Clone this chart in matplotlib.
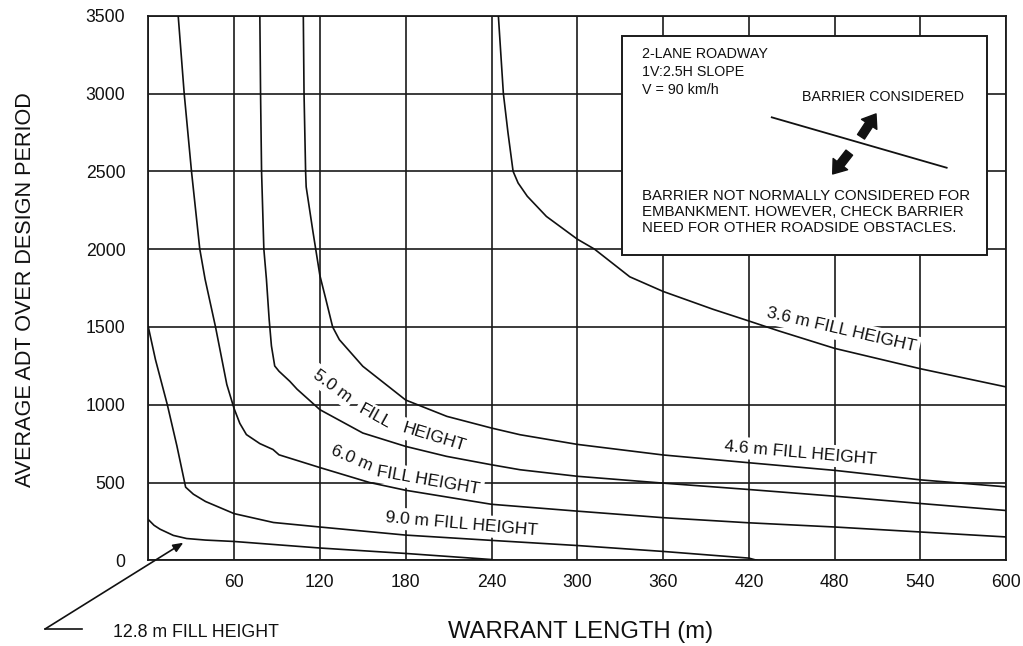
import matplotlib
matplotlib.use("Agg")
import matplotlib.pyplot as plt
from matplotlib.patches import Rectangle

plt.rcParams['font.family'] = ['Liberation Sans', 'DejaVu Sans']

# ---------------- data ----------------
x_ticks = [0, 60, 120, 180, 240, 300, 360, 420, 480, 540, 600]
x_tick_labels = ['', '60', '120', '180', '240', '300', '360', '420', '480', '540', '600']
y_ticks = [0, 500, 1000, 1500, 2000, 2500, 3000, 3500]
y_tick_labels = ['0', '500', '1000', '1500', '2000', '2500', '3000', '3500']

x_36 = [244.8, 248.3, 251.5, 255.1, 258.6, 265.0, 278.4, 300.0, 312.0, 336.7, 360.0, 395.0, 420.0, 441.0, 480.0, 540.0, 600.0]
y_36 = [3500, 3000, 2750, 2500, 2425, 2340, 2210, 2064, 2000, 1822, 1728, 1613, 1538, 1474, 1362, 1231, 1114]

x_46 = [108.4, 108.9, 110.0, 110.4, 115.0, 120.0, 124.2, 128.9, 133.6, 150.0, 180.0, 208.8, 240.0, 260.0, 300.0, 360.0, 420.0, 480.0, 540.0, 600.0]
y_46 = [3500, 3000, 2500, 2400, 2120, 1830, 1676, 1500, 1418, 1247, 1030, 925, 850, 807, 745, 677, 627, 578, 517, 472]

x_50 = [78.0, 78.5, 79.2, 80.8, 82.6, 84.5, 86.1, 88.4, 91.4, 99.0, 104.0, 114.8, 120.0, 150.0, 180.0, 208.6, 240.0, 260.0, 300.0, 360.0, 420.0, 480.0, 540.0, 600.0]
y_50 = [3500, 3000, 2500, 2000, 1807, 1550, 1378, 1249, 1215, 1150, 1100, 1011, 968, 818, 732, 668, 614, 582, 540, 496, 455, 412, 365, 320]

x_60 = [20.9, 25.1, 30.2, 36.0, 39.7, 47.0, 54.9, 60.0, 64.0, 68.6, 78.0, 87.2, 91.4, 120.0, 154.7, 180.0, 240.0, 300.0, 360.0, 420.0, 480.0, 540.0, 600.0]
y_60 = [3500, 3000, 2500, 2000, 1807, 1500, 1130, 975, 880, 808, 750, 712, 678, 596, 500, 450, 360, 316, 274, 241, 214, 182, 150]

x_90 = [0.0, 5.0, 13.3, 20.0, 26.1, 31.5, 40.0, 60.0, 87.5, 120.0, 180.0, 240.0, 300.0, 360.0, 420.0, 425.6]
y_90 = [1500, 1290, 1000, 735, 470, 425, 378, 300, 243, 214, 162, 128, 95, 57, 14, 0]

x_128 = [0.0, 4.0, 8.2, 17.5, 26.8, 40.0, 60.0, 120.0, 180.0, 240.0]
y_128 = [262, 225, 200, 160, 140, 130, 121, 79, 44, 5]

curves = [(x_36, y_36), (x_46, y_46), (x_50, y_50), (x_60, y_60), (x_90, y_90), (x_128, y_128)]

# ---------------- figure ----------------
fig = plt.figure(figsize=(10.23, 6.46), dpi=100)
ax = fig.add_axes([0.14497, 0.13266, 0.8387, 0.8430])

ax.set_xlim(0, 600)
ax.set_ylim(0, 3500)
ax.set_xticks(x_ticks)
ax.set_xticklabels(x_tick_labels)
ax.set_yticks(y_ticks)
ax.set_yticklabels(y_tick_labels)
ax.tick_params(axis='both', length=0, labelsize=12.7, colors='#111111')
ax.tick_params(axis='x', pad=10)
ax.tick_params(axis='y', pad=16.5)

ax.set_axisbelow(True)
ax.grid(True, color='#1a1a1a', linewidth=1.2)
for s in ax.spines.values():
    s.set_linewidth(1.3)
    s.set_color('#1a1a1a')

for xs, ys in curves:
    ax.plot(xs, ys, color='#111111', linewidth=1.2, zorder=3, solid_joinstyle='round')

# axis labels
ax.set_xlabel('WARRANT LENGTH (m)', fontsize=17.2, color='#111111')
ax.xaxis.set_label_coords(0.5043, -0.1317)
ax.xaxis.label.set_va('center')
ax.set_ylabel('AVERAGE ADT OVER DESIGN PERIOD', fontsize=15.6, color='#111111')
ax.yaxis.set_label_coords(-0.1437, 0.4963)
ax.yaxis.label.set_va('center')

# curve labels
lab_kw = dict(fontsize=12.5, color='#111111', ha='center', va='center', zorder=2,
              bbox=dict(boxstyle='square,pad=0.2', fc='white', ec='none'))
ax.text(484.9, 1480, '3.6 m FILL HEIGHT', rotation=-13, **lab_kw)
ax.text(455.8, 690, '4.6 m FILL HEIGHT', rotation=-5, **lab_kw)
ax.text(128.7, 1120, '5.0 m', rotation=-36, **lab_kw)
ax.text(158.5, 923, 'FILL', rotation=-29, **lab_kw)
ax.text(199.8, 790, 'HEIGHT', rotation=-17, **lab_kw)
ax.text(142.2, 655, '6.0 m', rotation=-23, **lab_kw)
ax.text(196.0, 512, 'FILL HEIGHT', rotation=-10, **lab_kw)
ax.text(219.2, 233, '9.0 m FILL HEIGHT', rotation=-5, **lab_kw)

# 12.8 m label with pointer outside axes
ax.text(33.4, -467, '12.8 m FILL HEIGHT', fontsize=12.8, color='#111111',
        ha='center', va='center', clip_on=False)
ax.plot([-46.4, -72.2], [-441.5, -441.5], color='#111111', linewidth=1.2, clip_on=False)
ax.annotate('', xy=(24.5, 113), xytext=(-72.2, -441.5), annotation_clip=False,
            arrowprops=dict(arrowstyle='-|>,head_length=0.6,head_width=0.25',
                            color='#111111', lw=1.2, shrinkA=0, shrinkB=0))

# inset box
box = Rectangle((331.0, 1962), 255.3, 1408, facecolor='white', edgecolor='#1a1a1a',
                linewidth=1.4, zorder=4)
ax.add_patch(box)
ax.text(0.575, 0.9425, '2-LANE ROADWAY\n1V:2.5H SLOPE\nV = 90 km/h', transform=ax.transAxes,
        fontsize=10.3, ha='left', va='top', linespacing=1.36, color='#111111', zorder=5)
ax.text(0.7615, 0.8513, 'BARRIER CONSIDERED', transform=ax.transAxes,
        fontsize=10.3, ha='left', va='center', color='#111111', zorder=5)
ax.text(0.575, 0.6818, 'BARRIER NOT NORMALLY CONSIDERED FOR\nEMBANKMENT. HOWEVER, CHECK BARRIER\nNEED FOR OTHER ROADSIDE OBSTACLES.',
        transform=ax.transAxes, fontsize=10.85, ha='left', va='top', linespacing=1.17,
        color='#111111', zorder=5)
ax.plot([436.0, 558.3], [2847, 2523], color='#111111', linewidth=1.3, zorder=5)
arrow_kw = dict(arrowstyle='simple,head_length=0.75,head_width=1.1,tail_width=0.5',
                fc='#111111', ec='#111111', shrinkA=0, shrinkB=0, mutation_scale=12)
ax.annotate('', xy=(508.9, 2869), xytext=(498.4, 2722), arrowprops=arrow_kw, zorder=6)
ax.annotate('', xy=(478.6, 2483), xytext=(490.2, 2620), arrowprops=arrow_kw, zorder=6)

fig.savefig('out.png', dpi=100, facecolor='white')
